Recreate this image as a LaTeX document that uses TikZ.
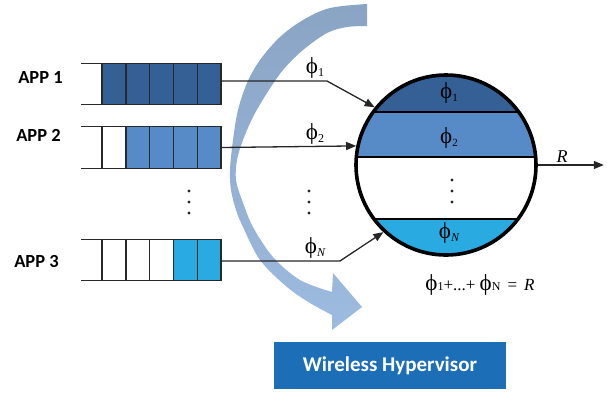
\documentclass[tikz,border=0pt]{standalone}
\usepackage{fontspec}
\newfontfamily\carl{Carlito}
\newfontfamily\tms{Liberation Serif}
\usetikzlibrary{arrows.meta,calc}
\definecolor{dblue}{RGB}{53,96,150}
\definecolor{mblue}{RGB}{87,139,200}
\definecolor{lblue}{RGB}{41,170,225}
\definecolor{hvblue}{RGB}{28,110,182}
\definecolor{arrtop}{RGB}{138,164,196}
\definecolor{arrbot}{RGB}{157,187,224}
\definecolor{cellline}{RGB}{40,40,40}
\newcommand{\bigphi}{{\fontsize{23}{24}\selectfont ϕ}}
\begin{document}
\begin{tikzpicture}[x=1pt,y=-1pt,
  cell/.style={draw=cellline, line width=1.4pt, minimum width=23.8pt, minimum height=41.5pt, inner sep=0pt, outer sep=0pt, anchor=west},
  qline/.style={draw=cellline, line width=1.4pt},
  applabel/.style={font=\carl\bfseries\fontsize{18.5}{20}\selectfont, inner sep=0pt},
  phil/.style={font=\tms\fontsize{18}{20}\selectfont, inner sep=0pt},
  conn/.style={line width=1.3pt, draw=black!85},
  tip/.style={-{Triangle[length=10pt,width=8pt]}},
  dotn/.style={circle, fill=black!85, inner sep=0pt, minimum size=3.2pt},
  bandline/.style={line width=2pt, draw=black},
]
\useasboundingbox (0,0) rectangle (611,392);

% curved arrow
\shade[top color=arrtop, bottom color=arrbot]
  plot[smooth, tension=0.55] coordinates {(367,4) (330,8) (303,20) (280,37) (260,60) (247,83) (238,110) (233,140) (230,170) (231,190) (236,210) (243,227) (260,260) (287,287) (310,303) (332,315)}
  -- (332,330) -- (362,307) -- (333,273) -- (332,292)
  -- plot[smooth, tension=0.55] coordinates {(332,292) (300,280) (273,257) (253,227) (242,200) (236,180) (237,160) (243,140) (253,117) (267,93) (283,70) (303,50) (327,33) (347,27) (367,26)}
  -- cycle;

% APP labels
\node[applabel] (a1) at (40.5,77.7) {APP 1};
\node[applabel] (a2) at (38.5,135.5) {APP 2};
\node[applabel] (a3) at (36.5,261) {APP 3};

% queues
\foreach \i/\c in {1/dblue,2/dblue,3/dblue,4/dblue,5/dblue}
  \node[cell, fill=\c] (q1c\i) at ({102+23.8*(\i-1)},84) {};
\foreach \i/\c in {1/white,2/mblue,3/mblue,4/mblue,5/mblue}
  \node[cell, fill=\c] (q2c\i) at ({102+23.8*(\i-1)},147.5) {};
\foreach \i/\c in {1/white,2/white,3/white,4/lblue,5/lblue}
  \node[cell, fill=\c] (q3c\i) at ({102+23.8*(\i-1)},260) {};
\foreach \q in {1,2,3}{
  \draw[qline] (q\q c1.north west) -- ++(-21,0);
  \draw[qline] (q\q c1.south west) -- ++(-21,0);
}

% dots
\foreach \x/\n in {189/qd,309/md}{
  \node[dotn] (\n1) at (\x,191) {};
  \node[dotn] (\n2) at (\x,202) {};
  \node[dotn] (\n3) at (\x,213) {};
}

% server circle with bands
\coordinate (srvc) at (446,165);
\begin{scope}
  \clip (srvc) circle (90pt);
  \fill[dblue] (340,60) rectangle (560,112);
  \fill[mblue] (340,112) rectangle (560,157);
  \fill[lblue] (340,219) rectangle (560,270);
  \draw[bandline] (340,112) -- (560,112);
  \draw[bandline] (340,157) -- (560,157);
  \draw[bandline] (340,219) -- (560,219);
\end{scope}
\node[circle, draw=black, line width=3.6pt, minimum size=180pt, inner sep=0pt] (srv) at (srvc) {};

% labels in circle
\node[phil] (c1) at (449,93) {\bigphi\raisebox{-3pt}{\fontsize{11}{11}\selectfont 1}};
\node[phil] (c2) at (449,138) {\bigphi\raisebox{-3pt}{\fontsize{11}{11}\selectfont 2}};
\node[phil] (cN) at (449,233) {\bigphi\raisebox{-3pt}{\fontsize{12}{12}\selectfont\itshape N}};
\node[dotn] (cd1) at (452,180) {};
\node[dotn] (cd2) at (452,191) {};
\node[dotn] (cd3) at (452,202) {};

% connectors
\draw[conn,tip] ([yshift=3pt]q1c5.east) -- ++(106,0) -- (srv.141.6);
\draw[conn,tip] (q2c5.east) -- (srv.168.6);
\draw[conn,tip] ([yshift=-1pt]q3c5.east) -- ++(119,0) -- (srv.227.2);
\draw[conn,tip] (srv.east) -- ++(66,0) coordinate (rend);

% phi labels on lines
\node[phil] (p1) at (315,68) {\bigphi\raisebox{-3pt}{\fontsize{12}{12}\selectfont 1}};
\node[phil] (p2) at (315,134) {\bigphi\raisebox{-3pt}{\fontsize{12}{12}\selectfont 2}};
\node[phil] (pN) at (315,248) {\bigphi\raisebox{-3pt}{\fontsize{12}{12}\selectfont\itshape N}};
\node[font=\tms\itshape\fontsize{18}{20}\selectfont, inner sep=0pt] (R) at (562,157) {R};

% formula
\node[font=\tms\fontsize{17}{20}\selectfont, inner sep=0pt] (sum) at (480,285)
  {\bigphi{\fontsize{12}{12}\selectfont 1}+...+ \bigphi{\fontsize{12}{12}\selectfont N} \,=\, \textit{R}};

% hypervisor box
\node[fill=hvblue, minimum width=232pt, minimum height=47pt, inner sep=0pt, text=white,
      font=\carl\bfseries\fontsize{21}{24}\selectfont] (hv) at (390,365.5) {Wireless Hypervisor};
\end{tikzpicture}
\end{document}
